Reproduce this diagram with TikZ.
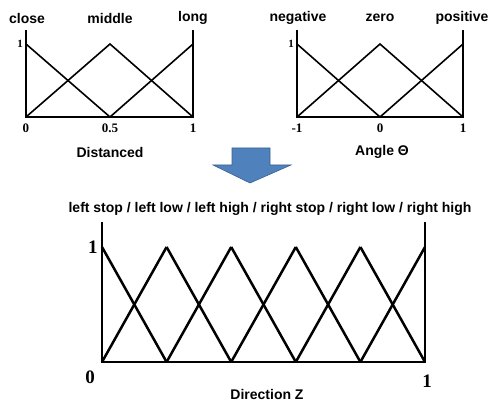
\documentclass[tikz,border=0pt]{standalone}
\usepackage{fontspec}
\setmainfont{Liberation Serif}
\setsansfont{Liberation Sans}
\usetikzlibrary{positioning}
\definecolor{arrowblue}{RGB}{79,129,189}
\definecolor{arrowedge}{RGB}{58,96,142}
\tikzset{
    axisline/.style={line width=1.6pt},
    mfline/.style={line width=1.6pt, line join=miter},
    bigaxis/.style={line width=2.5pt},
    bigmf/.style={line width=2.5pt, line join=miter},
    setname/.style={font=\sffamily\bfseries\fontsize{14}{16}\selectfont, inner sep=0pt},
    axisname/.style={font=\sffamily\bfseries\fontsize{14}{16}\selectfont, inner sep=0pt},
    ticklabel/.style={font=\bfseries\fontsize{13}{15}\selectfont, inner sep=0pt},
    bigtick/.style={font=\bfseries\fontsize{19}{21}\selectfont, inner sep=0pt}
}

\begin{document}
\begin{tikzpicture}[x=1pt,y=-1pt]
\useasboundingbox (0,0) rectangle (491,401);

% Distance
\draw[axisline] (26,30) -- (26,117) -- (193,117) -- (193,30);
\draw[mfline] (26,44) -- (110,117);
\draw[mfline] (26,117) -- (110,44) -- (193,117);
\draw[mfline] (110,117) -- (193,44);
\node[setname] (close) at (27,18) {close};
\node[setname] (middle) at (110,18) {middle};
\node[setname] (long) at (193,18) {long};
\node[ticklabel, font=\bfseries\fontsize{11}{13}\selectfont] (dOne) at (20,44) {1};
\node[ticklabel] (dZero) at (26,128) {0};
\node[ticklabel] (dHalf) at (110,128) {0.5};
\node[ticklabel] (dMax) at (193,128) {1};
\node[axisname] (distanced) at (110,152) {Distanced};

% Angle
\draw[axisline] (297,30) -- (297,117) -- (463,117) -- (463,30);
\draw[mfline] (297,44) -- (380,117);
\draw[mfline] (297,117) -- (380,44) -- (463,117);
\draw[mfline] (380,117) -- (463,44);
\node[setname] (negative) at (298,18) {negative};
\node[setname] (zero) at (380,18) {zero};
\node[setname] (positive) at (462,18) {positive};
\node[ticklabel, font=\bfseries\fontsize{11}{13}\selectfont] (aOne) at (291,44) {1};
\node[ticklabel] (aMin) at (297,128) {-1};
\node[ticklabel] (aZero) at (380,128) {0};
\node[ticklabel] (aMax) at (463,128) {1};
\node[axisname] (angle) at (382,152) {Angle Θ};

% block arrow
\draw[arrowedge, fill=arrowblue, line width=0.6pt]
    (232,148) -- (270,148) -- (270,165) -- (291,165) -- (250,183)
    -- (213,165) -- (232,165) -- cycle;

% Direction
\draw[bigaxis] (102,222) -- (102,362) -- (425,362) -- (425,222);
\foreach \p in {0,...,5} {
    \pgfmathsetmacro{\xp}{102+64.6*\p}
    \ifnum\p<5 \draw[bigmf] (\xp,247) -- ({\xp+64.6},362); \fi
    \ifnum\p>0 \draw[bigmf] ({\xp-64.6},362) -- (\xp,247); \fi
}
\node[setname] (dirsets) at (270,209) {left stop / left low / left high / right stop / right low / right high};
\node[bigtick] (zOne) at (93,247) {1};
\node[bigtick] (zZero) at (90,377) {0};
\node[bigtick] (zMax) at (427,381) {1};
\node[axisname] (direction) at (267,394) {Direction Z};
\end{tikzpicture}
\end{document}
